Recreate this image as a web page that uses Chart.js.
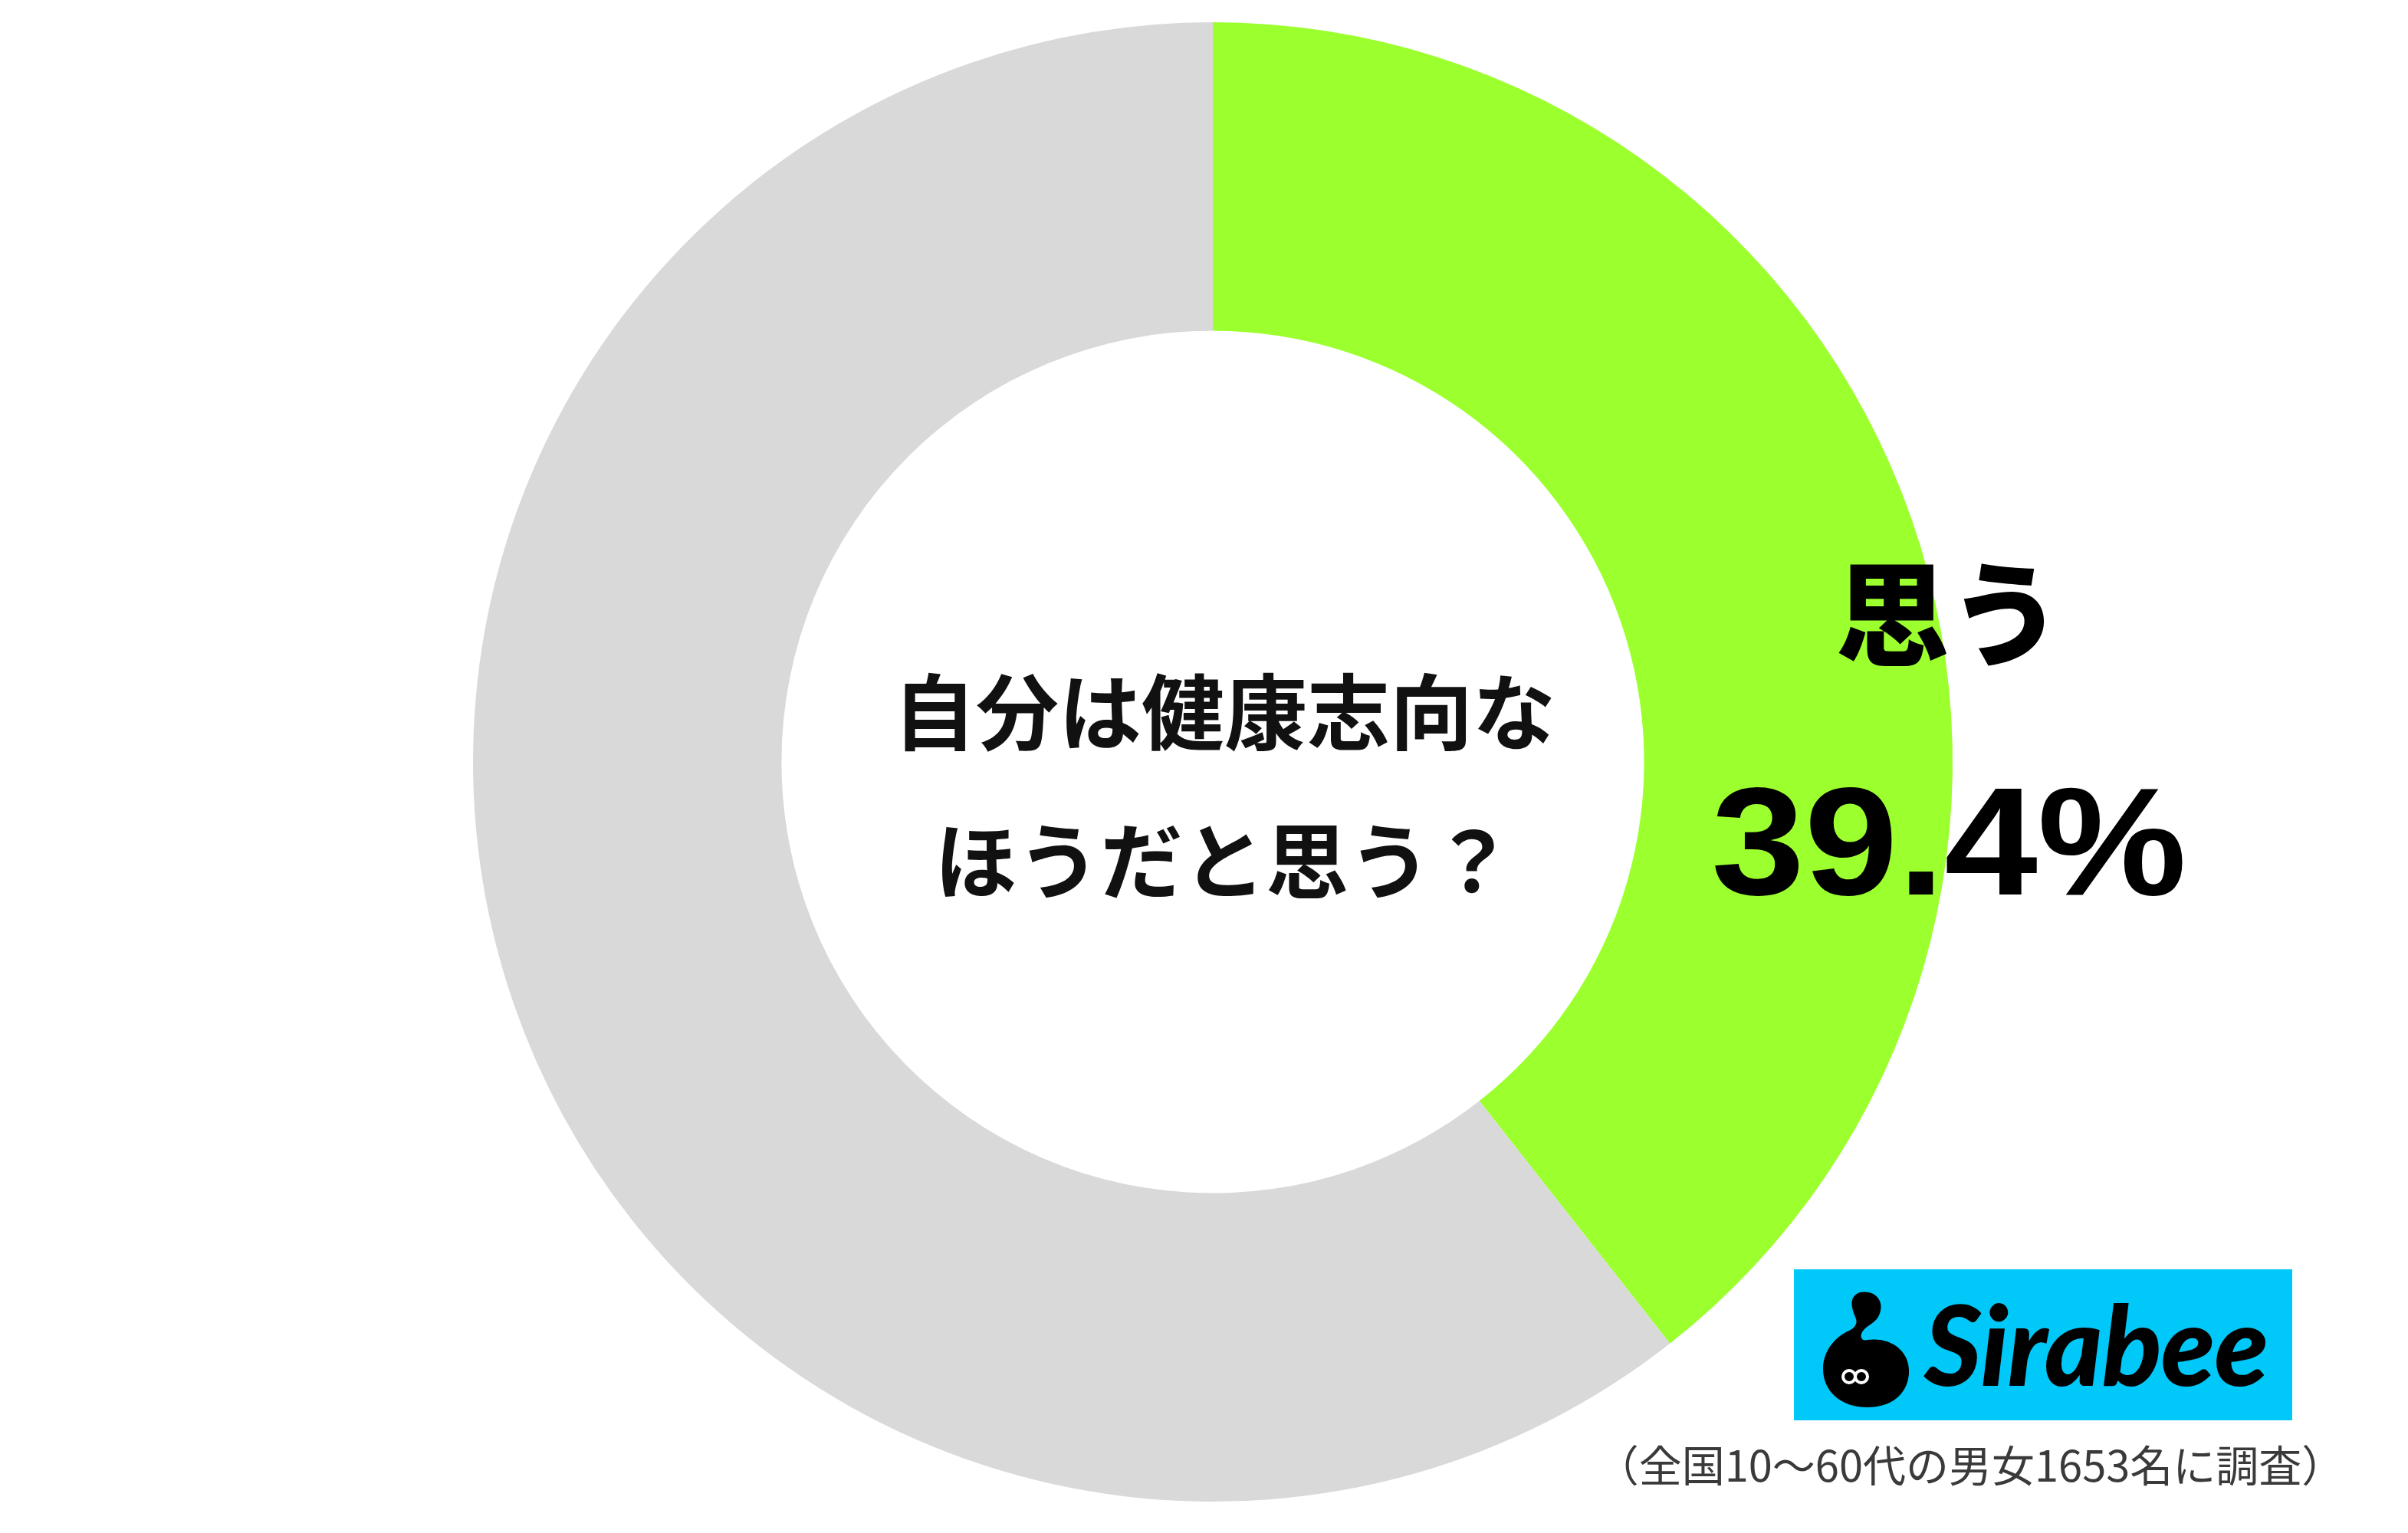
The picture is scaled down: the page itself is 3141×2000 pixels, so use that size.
<!DOCTYPE html>
<html lang="ja">
<head>
<meta charset="utf-8">
<title>自分は健康志向なほうだと思う？</title>
<script src="https://cdn.jsdelivr.net/npm/chart.js@4/dist/chart.umd.min.js"></script>
<style>
  html, body { margin: 0; padding: 0; background: #ffffff; }
  #wrap { position: relative; width: 3141px; height: 2000px; overflow: hidden; }
  #chart { position: absolute; left: 0; top: 0; }
  .jp { font-family: "Noto Sans CJK JP", "Noto Sans CJK SC", sans-serif; }
  #question {
    position: absolute; left: 1092px; width: 1010px; top: 826px;
    text-align: center; font-size: 108px; font-weight: 700; color: #111;
    line-height: 194px;
  }
  #note {
    position: absolute; left: 2060px; top: 1868px; width: 1020px;
    text-align: center; font-size: 56px; font-weight: 400; color: #3a3a3a;
    white-space: nowrap; filter: blur(0.7px);
  }
  #logo {
    position: absolute; left: 2340px; top: 1656px; width: 650px; height: 197px;
    background: #00c8f8;
  }
  #logo .word {
    position: absolute; left: 170px; top: 24px;
    font-family: "Lato", sans-serif; font-weight: 900; font-style: italic;
    font-size: 144px; line-height: 146px; color: #000; letter-spacing: -1px;
  }
  #logo svg { position: absolute; left: 30px; top: 22px; }
</style>
</head>
<body>
<div id="wrap">
  <canvas id="chart" width="3141" height="2000"></canvas>
  <div id="question" class="jp">自分は健康志向な<br>ほうだと思う？</div>
  <div id="logo">
    <svg width="130" height="160" viewBox="0 0 130 160">
      <!-- mascot: round body with a hooked neck and head -->
      <path d="M56 8 C78 4 90 22 80 40 C74 50 62 52 58 62 C56 68 60 72 66 70
               C98 66 122 86 120 114 C118 142 96 158 66 158 C30 158 8 136 8 108
               C8 84 24 66 42 58 C50 54 54 48 50 40 C46 30 40 14 56 8 Z" fill="#000"/>
      <circle cx="42" cy="118" r="8" fill="none" stroke="#fff" stroke-width="4"/>
      <circle cx="58" cy="118" r="8" fill="none" stroke="#fff" stroke-width="4"/>
    </svg>
    <div class="word">Sirabee</div>
  </div>
  <div id="note" class="jp">（全国10〜60代の男女1653名に調査）</div>
</div>
<script>
// Survey result: share who answered 「思う」 vs the rest
const categories = ['思う', 'その他'];
const values = [39.4, 60.6];
const sliceColors = ['#9cff2e', '#d9d9d9'];
// which slices carry a printed label
const labelled = [true, false];

// Draws the category name and percentage beside the highlighted slice
const sliceLabels = {
  id: 'sliceLabels',
  afterDatasetsDraw(chart) {
    const ctx = chart.ctx;
    const meta = chart.getDatasetMeta(0);
    meta.data.forEach((arc, i) => {
      if (!labelled[i]) return;
      const { x, y, outerRadius } = arc.getProps(['x', 'y', 'outerRadius'], true);
      const lx = x + outerRadius * 0.995;
      ctx.save();
      ctx.fillStyle = '#000';
      ctx.textAlign = 'center';
      ctx.textBaseline = 'middle';
      ctx.font = '900 148px "Noto Sans CJK JP"';
      ctx.fillText(categories[i], lx, y - outerRadius * 0.2);
      ctx.font = 'bold 200px "Liberation Sans", Arial, sans-serif';
      const txt = values[i].toFixed(1) + '%';
      const w = ctx.measureText(txt).width;
      ctx.translate(lx, y + outerRadius * 0.122);
      ctx.scale(620 / w, 1);
      ctx.fillText(txt, 0, 0);
      ctx.restore();
    });
  }
};

new Chart(document.getElementById('chart'), {
  type: 'doughnut',
  data: {
    labels: categories,
    datasets: [{
      data: values,
      backgroundColor: sliceColors,
      borderWidth: 0,
      hoverOffset: 0
    }]
  },
  options: {
    responsive: false,
    animation: false,
    cutout: '58.3%',
    rotation: 0,
    layout: { padding: { left: 617, right: 594, top: 29, bottom: 41 } },
    plugins: { legend: { display: false }, tooltip: { enabled: false } }
  },
  plugins: [sliceLabels]
});
</script>
</body>
</html>
